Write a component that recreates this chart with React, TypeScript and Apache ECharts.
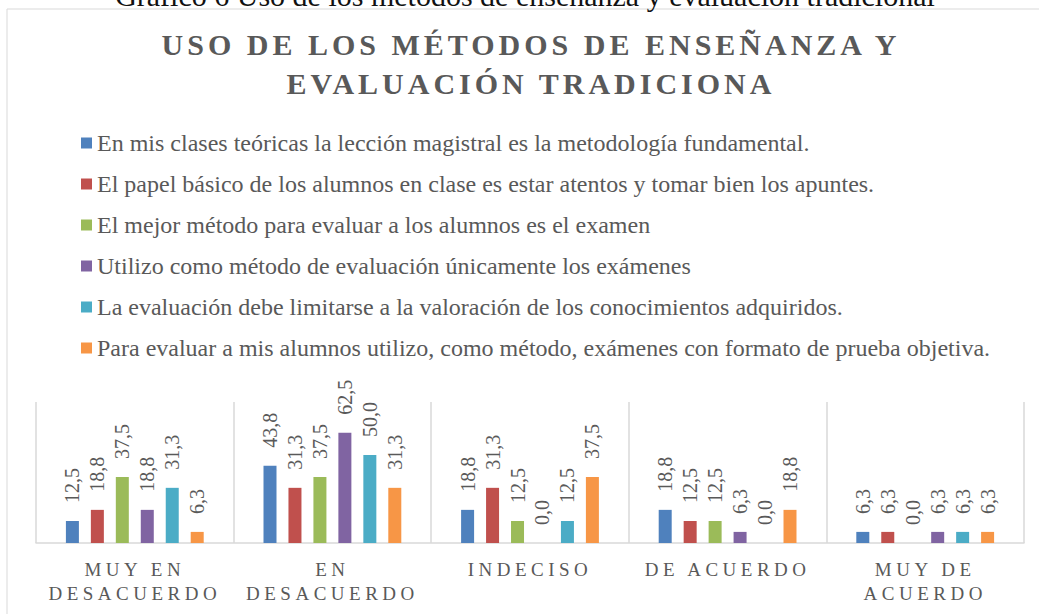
import React, { useEffect, useRef } from "react";
import * as echarts from "echarts";

const categories = ["MUY EN\nDESACUERDO", "EN\nDESACUERDO", "INDECISO", "DE ACUERDO", "MUY DE\nACUERDO"];
const seriesNames = [
  "En mis clases teóricas la lección magistral es la metodología fundamental.",
  "El papel básico de los alumnos en clase es estar atentos y tomar bien los apuntes.",
  "El mejor método para evaluar a los alumnos es el examen",
  "Utilizo como método de evaluación únicamente los exámenes",
  "La evaluación debe limitarse a la valoración de los conocimientos adquiridos.",
  "Para evaluar a mis alumnos utilizo, como método, exámenes con formato de prueba objetiva.",
];
const leccionMagistral = [12.5, 43.8, 18.8, 18.8, 6.3];
const papelAlumnos = [18.8, 31.3, 31.3, 12.5, 6.3];
const mejorMetodoExamen = [37.5, 37.5, 12.5, 12.5, 0.0];
const unicamenteExamenes = [18.8, 62.5, 0.0, 6.3, 6.3];
const conocimientosAdquiridos = [31.3, 50.0, 12.5, 0.0, 6.3];
const pruebaObjetiva = [6.3, 31.3, 37.5, 18.8, 6.3];
const seriesValues = [
  leccionMagistral,
  papelAlumnos,
  mejorMetodoExamen,
  unicamenteExamenes,
  conocimientosAdquiridos,
  pruebaObjetiva,
];
const colors = ["#4F81BD", "#C0504D", "#9BBB59", "#8064A2", "#4BACC6", "#F79646"];

const caption = "Gráfico 6 Uso de los métodos de enseñanza y evaluación tradicional";
const titleText = "USO DE LOS MÉTODOS DE ENSEÑANZA Y\nEVALUACIÓN TRADICIONA";

const FONT = "'Liberation Serif', 'Times New Roman', serif";

export default function App() {
  const ref = useRef<HTMLDivElement>(null);
  useEffect(() => {
    if (!ref.current) return;
    const chart = echarts.init(ref.current, null, { renderer: "svg" });
    const option: any = {
      animation: false,
      backgroundColor: "#ffffff",
      color: colors,
      textStyle: { fontFamily: FONT },
      graphic: [
        {
          type: "rect",
          shape: { x: 7, y: 9, width: 1100, height: 700 },
          style: { fill: "none", stroke: "#d9d9d9", lineWidth: 1 },
          silent: true,
        },
        {
          type: "text",
          x: 525,
          y: -5,
          style: {
            text: caption,
            fontFamily: FONT,
            fontSize: 30,
            fill: "#111111",
            textAlign: "center",
            textVerticalAlign: "middle",
          },
        },
        {
          type: "text",
          x: 531,
          y: 25,
          style: {
            text: titleText,
            fontFamily: FONT,
            fontSize: 30,
            fontWeight: "bold",
            lineHeight: 39,
            fill: "#595959",
            textAlign: "center",
            textVerticalAlign: "top",
          },
        },
      ],
      legend: {
        orient: "vertical",
        left: 81,
        top: 131,
        padding: 0,
        itemWidth: 11,
        itemHeight: 11,
        itemGap: 17,
        icon: "rect",
        textStyle: { fontFamily: FONT, fontSize: 24, lineHeight: 24, color: "#595959" },
        data: seriesNames,
      },
      grid: { left: 36, right: 15, top: 402, bottom: 71, containLabel: false },
      xAxis: {
        type: "category",
        data: categories,
        axisLine: { show: true, lineStyle: { color: "#d9d9d9", width: 1.5 } },
        axisTick: { show: false },
        splitLine: { show: true, lineStyle: { color: "#d9d9d9", width: 1.5 } },
        axisLabel: {
          fontFamily: FONT,
          fontSize: 19,
          lineHeight: 24,
          color: "#595959",
          margin: 14,
          interval: 0,
        },
      },
      yAxis: {
        type: "value",
        min: 0,
        max: 80,
        show: false,
        splitLine: { show: false },
      },
      series: seriesNames.map((name, i) => ({
        name,
        type: "bar",
        data: seriesValues[i],
        barWidth: 13,
        barGap: "92%",
        itemStyle: { color: colors[i] },
        label: {
          show: true,
          position: "top",
          rotate: 90,
          align: "left",
          verticalAlign: "middle",
          distance: 18,
          fontFamily: FONT,
          fontSize: 20,
          color: "#595959",
          formatter: (p: any) => Number(p.value).toFixed(1).replace(".", ","),
        },
      })),
    };
    chart.setOption(option);
    return () => chart.dispose();
  }, []);
  return (
    <>
      <style>{`
        text[style*="19px"] { letter-spacing: 4.5px; }
        text[style*="30px"][style*="bold"] { letter-spacing: 4px; }
      `}</style>
      <div
        ref={ref}
        style={{ position: "fixed", left: 0, top: 0, width: 1039, height: 614, background: "#fff" }}
      />
    </>
  );
}
